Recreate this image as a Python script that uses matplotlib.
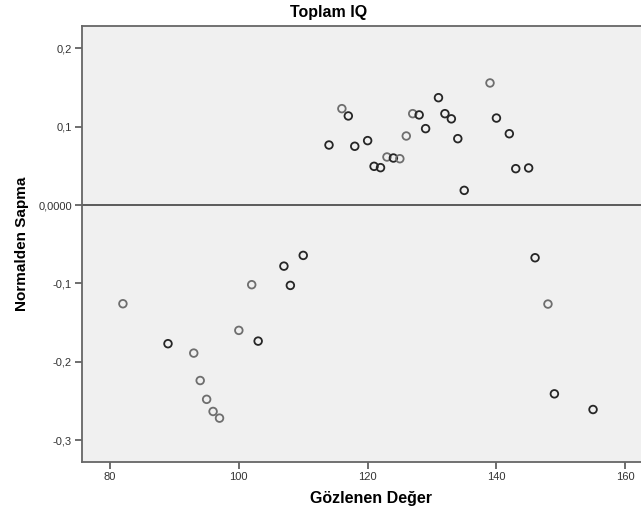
import matplotlib

matplotlib.use("Agg")

import matplotlib.pyplot as plt  # noqa: E402
from matplotlib.ticker import FuncFormatter  # noqa: E402

plt.rcParams["font.family"] = ["Liberation Sans", "DejaVu Sans"]

# observed value (x) and detrended normal deviation (y)
observed = [82, 89, 93, 94, 95, 96, 97, 100, 102, 103, 107, 108, 110,
            114, 116, 117, 118, 120, 121, 122, 123, 124, 125, 126, 127,
            128, 129, 131, 132, 133, 134, 135, 139, 140, 142, 143, 145,
            146, 148, 149, 155]
deviation = [-0.126, -0.177, -0.189, -0.224, -0.248, -0.2635, -0.272, -0.160,
             -0.1017, -0.1737, -0.078, -0.1026, -0.0643,
             0.0766, 0.123, 0.1137, 0.075, 0.0822, 0.0494, 0.0477, 0.0613,
             0.060, 0.0591, 0.0881, 0.1166, 0.115, 0.0975, 0.137, 0.1166,
             0.110, 0.0847, 0.0187, 0.1558, 0.111, 0.091, 0.0464, 0.0473,
             -0.0673, -0.1264, -0.241, -0.261]
# repeated observations are drawn darker (overplotted circles)
repeated = [0, 1, 0, 0, 0, 0, 0, 0, 0, 1, 1, 1, 1,
            1, 0, 1, 1, 1, 1, 1, 0, 1, 0, 0, 0,
            1, 1, 1, 1, 1, 1, 1, 0, 1, 1, 1, 1,
            1, 0, 1, 1]

y_ticks = [0.2, 0.1, 0.0, -0.1, -0.2, -0.3]
x_ticks = [80, 100, 120, 140, 160]

W, H = 641, 516
fig = plt.figure(figsize=(W / 100, H / 100), dpi=100)
# axes in pixel coords: left 81.7, top 26, bottom 462, right runs past the image
left, right, top, bottom = 81.7, 660.0, 26.0, 462.0
ax = fig.add_axes([left / W, 1 - bottom / H, (right - left) / W, (bottom - top) / H])
ax.set_facecolor("#f0f0f0")

edge = ["#262626" if r else "#6e6e6e" for r in repeated]
ax.scatter(observed, deviation, s=30, facecolors="none", edgecolors=edge,
           linewidths=1.3, zorder=3)
ax.axhline(0.0, color="#5a5a5a", lw=1.4, zorder=2)

ax.set_xlim(75.6, 75.6 + (right - left) / 6.44)
ax.set_ylim(-0.328, 0.2285)
ax.set_xticks(x_ticks)
ax.set_yticks(y_ticks)


def _ylab(v, _pos):
    if abs(v) < 1e-9:
        return "0,0000"
    return f"{v:.1f}".replace(".", ",")


ax.yaxis.set_major_formatter(FuncFormatter(_ylab))
ax.tick_params(direction="out", length=5, width=1.2, color="#555555",
               labelsize=8, labelcolor="#333333", pad=2)
for side in ("left", "bottom", "top", "right"):
    ax.spines[side].set_color("#666666")
    ax.spines[side].set_linewidth(1.3)

ax.set_xlabel("Gözlenen Değer", fontsize=11.5, fontweight="bold", labelpad=7)
ax.set_ylabel("Normalden Sapma", fontsize=11, fontweight="bold", labelpad=7)
fig.text(329 / W, 1 - 12 / H, "Toplam IQ", ha="center", va="center",
         fontsize=11.5, fontweight="bold")

fig.savefig("out.png", dpi=100)
plt.close(fig)
